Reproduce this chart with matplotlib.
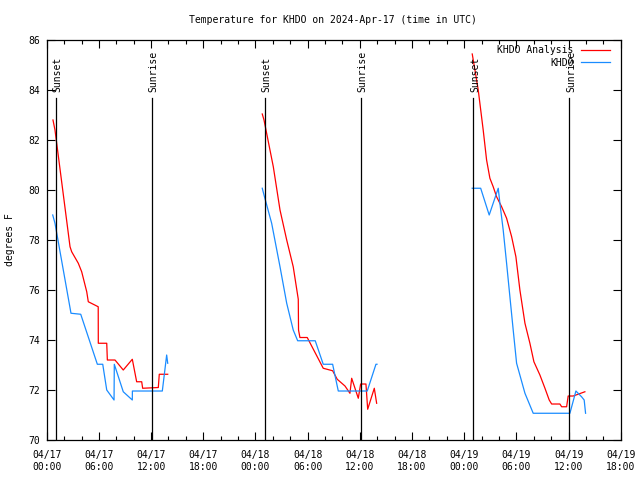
import numpy as np
import matplotlib
matplotlib.use("Agg")
import matplotlib.pyplot as plt
from matplotlib.ticker import MultipleLocator

# hours since 2024-04-17 00:00 UTC, nan = gap between runs
analysis_hours = [0.72, 0.95, 2.68, 2.87, 3.63, 4.02, 4.60, 4.78, 5.75, 5.92, 5.93, 6.90, 6.97, 7.85,
                  8.80, 9.84, 10.34, 10.92, 11.03, 12.83, 12.94, 13.91, np.nan,
                  24.78, 24.98, 26.05, 26.82, 27.59, 28.34, 28.92, 28.95, 29.11, 29.95, 31.79, 32.87,
                  33.40, 34.29, 34.86, 35.06, 35.82, 36.09, 36.70, 36.90, 37.66, 37.93, np.nan,
                  48.92, 49.23, 49.61, 50.18, 50.57, 50.95, 51.33, 51.72, 52.30, 52.87, 53.45, 53.94,
                  54.40, 54.98, 55.55, 56.01, 56.70, 57.28, 57.77, 58.05, 59.00, 59.20, 59.77, 59.95,
                  60.53, 61.87]
analysis_temp = [82.8, 82.4, 77.73, 77.53, 77.07, 76.73, 75.93, 75.53, 75.36, 75.33, 73.87, 73.87, 73.2, 73.2,
                 72.8, 73.23, 72.33, 72.33, 72.07, 72.1, 72.63, 72.63, np.nan,
                 83.04, 82.8, 80.93, 79.2, 78.0, 76.93, 75.63, 74.4, 74.1, 74.1, 72.87, 72.77,
                 72.43, 72.16, 71.87, 72.47, 71.67, 72.24, 72.24, 71.23, 72.07, 71.47, np.nan,
                 85.44, 84.8, 84.0, 82.4, 81.2, 80.47, 80.13, 79.73, 79.33, 78.87, 78.13, 77.33,
                 76.0, 74.67, 73.87, 73.13, 72.6, 72.07, 71.6, 71.44, 71.44, 71.33, 71.33, 71.76,
                 71.76, 71.93]

obs_hours = [0.69, 0.95, 2.79, 3.91, 5.82, 6.44, 6.90, 7.74, 7.77, 8.80, 9.84, 9.85, 13.29, 13.79, 13.91, np.nan,
             24.78, 24.98, 25.86, 26.82, 27.59, 28.34, 28.85, 30.87, 31.79, 32.87, 33.52, 36.85, 37.85, 37.97, np.nan,
             48.92, 49.89, 50.87, 51.91, 52.10, 52.48, 52.87, 53.25, 53.63, 54.02, 54.98, 55.93, 60.15,
             60.84, 61.49, 61.79, 61.95]
obs_temp = [79.0, 78.67, 75.07, 75.03, 73.03, 73.03, 72.0, 71.6, 73.03, 71.93, 71.6, 71.96, 71.96, 73.4, 73.07, np.nan,
            80.07, 79.8, 78.67, 76.93, 75.47, 74.4, 73.97, 73.97, 73.03, 73.03, 71.96, 71.96, 73.03, 73.03, np.nan,
            80.07, 80.07, 79.0, 80.07, 79.47, 78.4, 77.07, 75.73, 74.4, 73.07, 71.87, 71.07, 71.07,
            71.96, 71.73, 71.6, 71.07]

sun_hours = [1.05, 12.1, 25.05, 36.1, 49.05, 60.1]
sun_labels = ["Sunset", "Sunrise", "Sunset", "Sunrise", "Sunset", "Sunrise"]

tick_hours = [0, 6, 12, 18, 24, 30, 36, 42, 48, 54, 60, 66]
tick_labels = ["04/17\n00:00", "04/17\n06:00", "04/17\n12:00", "04/17\n18:00",
               "04/18\n00:00", "04/18\n06:00", "04/18\n12:00", "04/18\n18:00",
               "04/19\n00:00", "04/19\n06:00", "04/19\n12:00", "04/19\n18:00"]

plt.rcParams['font.family'] = ['DejaVu Sans Mono']
plt.rcParams['font.size'] = 7.0

fig = plt.figure(figsize=(6.4, 4.8), dpi=100)
ax = fig.add_axes([0.073, 0.0833, 0.897, 0.8334])

ax.plot(analysis_hours, analysis_temp, color='#ff0000', lw=0.9, label='KHDO Analysis')
ax.plot(obs_hours, obs_temp, color='#1a8cff', lw=0.9, label='KHDO')

for h, lab in zip(sun_hours, sun_labels):
    ax.plot([h, h], [83.68, 70], color='black', lw=0.9)
    ax.text(h + 0.2, 83.93, lab, rotation=90, ha='center', va='bottom')

ax.set_xlim(0, 66)
ax.set_ylim(70, 86)
ax.set_xticks(tick_hours)
ax.set_xticklabels(tick_labels, linespacing=1.25)
ax.xaxis.set_minor_locator(MultipleLocator(2))
ax.yaxis.set_major_locator(MultipleLocator(2))
ax.tick_params(which='both', direction='in', top=True, right=True, width=0.8)
ax.tick_params(which='major', length=6, pad=7)
ax.tick_params(which='minor', length=3)
ax.tick_params(axis='y', pad=5)
for s in ax.spines.values():
    s.set_linewidth(0.9)

ax.set_ylabel('degrees F')
ax.yaxis.set_label_coords(-0.055, 0.5)
fig.text(333 / 640, 1 - 20 / 480, 'Temperature for KHDO on 2024-Apr-17 (time in UTC)',
         ha='center', va='center')

leg = ax.legend(loc='upper right', bbox_to_anchor=(0.981, 0.9875), frameon=False,
                markerfirst=False, handlelength=3.0, borderpad=0, borderaxespad=0,
                labelspacing=0.3, handletextpad=0.72)
for t in leg.get_texts():
    t.set_ha('right')

fig.savefig('out.png', dpi=100)
